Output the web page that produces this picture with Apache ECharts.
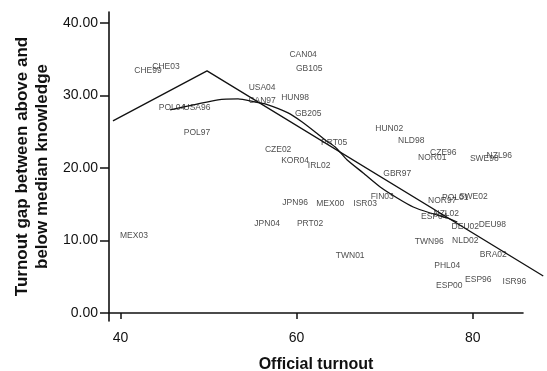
<!DOCTYPE html>
<html>
<head>
<meta charset="utf-8">
<script src="https://cdn.jsdelivr.net/npm/echarts@6/dist/echarts.min.js"></script>
<style>
html,body{margin:0;padding:0;background:#fff;}
#chart{width:547px;height:371px;}
</style>
</head>
<body>
<div id="chart"></div>
<script>
const caseLabels = ["CHE99","CHE03","POL04","USA96","POL97","USA04","CAN97","CAN04","GB105","HUN98",
  "GB205","PRT05","CZE02","KOR04","IRL02","HUN02","NLD98","GBR97","CZE96","NOR01",
  "SWE98","NZL96","NOR97","POL01","SWE02","ESP04","NZL02","DEU02","DEU98","TWN96",
  "NLD02","BRA02","PHL04","ESP00","ESP96","ISR96","JPN96","MEX00","ISR03","FIN03",
  "JPN04","PRT02","TWN01","MEX03"];
const turnout = [43.13,45.17,45.85,48.69,48.69,56.08,56.08,60.74,61.42,59.83,
  61.31,64.26,57.90,59.83,62.56,70.51,73.01,71.42,76.65,75.40,
  81.31,83.01,76.53,78.01,80.06,75.63,76.99,79.15,82.22,75.06,
  79.15,82.33,77.10,77.33,80.63,84.72,59.83,63.81,67.78,69.72,
  56.65,61.53,66.08,41.53];
const turnoutGap = [33.38,33.93,28.28,28.28,24.83,31.03,29.24,35.59,33.66,29.66,
  27.45,23.45,22.48,20.97,20.28,25.38,23.72,19.17,22.07,21.38,
  21.24,21.66,15.45,15.86,16.00,13.24,13.66,11.86,12.14,9.79,
  9.93,8.00,6.48,3.72,4.55,4.28,15.17,15.03,15.03,16.00,
  12.28,12.28,7.86,10.62];
const fitX = [39.15, 49.83, 88.0];
const fitY = [26.48, 33.38, 5.10];
const lowessX = [45.64,51.08,53.35,55.28,56.42,59.03,60.63,62.10,63.24,64.38,65.74,67.56,69.49,71.42,73.24,75.17,77.10,78.24];
const lowessY = [28.00,29.38,29.52,29.10,28.83,27.59,26.34,24.97,23.86,22.90,21.10,19.31,17.38,15.86,14.62,13.79,13.10,12.55];
const xTicks = [40, 60, 80];
const yTicks = [0, 10, 20, 30, 40];

const pts = caseLabels.map((n, i) => [turnout[i], turnoutGap[i], n]);
const fit = fitX.map((x, i) => [x, fitY[i]]);
const lowess = lowessX.map((x, i) => [x, lowessY[i]]);

const X_MIN = 38.7, X_MAX = 85.7, Y_MIN = -1.1, Y_MAX = 41.5;
const GRID_LEFT = 109, GRID_RIGHT = 24, GRID_W = 547 - 109 - 24;
// second (overlay) grid reaching the right edge, same scale, so the fit line can run past the axis end
const X_MAX2 = X_MIN + (X_MAX - X_MIN) * (547 - GRID_LEFT) / GRID_W;

const font = 'Liberation Sans';
const chart = echarts.init(document.getElementById('chart'), null, {renderer: 'canvas'});
chart.setOption({
  animation: false,
  backgroundColor: '#fff',
  grid: [
    {left: GRID_LEFT, right: GRID_RIGHT, top: 12, bottom: 50, outerBoundsMode: 'none', containLabel: false},
    {left: GRID_LEFT, right: 0, top: 12, bottom: 50, outerBoundsMode: 'none', containLabel: false}
  ],
  xAxis: [{
    type: 'value', min: X_MIN, max: X_MAX, gridIndex: 0,
    name: 'Official turnout', nameLocation: 'middle', nameGap: 36,
    nameTextStyle: {fontFamily: font, fontWeight: 'bold', fontSize: 16, color: '#111'},
    axisLine: {show: true, lineStyle: {color: '#111', width: 1.6}},
    axisTick: {show: true, length: 6, customValues: xTicks, lineStyle: {color: '#111', width: 1.5}},
    axisLabel: {customValues: xTicks, margin: 10, fontFamily: font, fontSize: 14, color: '#111'},
    splitLine: {show: false}
  }, {
    type: 'value', min: X_MIN, max: X_MAX2, gridIndex: 1, show: false
  }],
  yAxis: [{
    type: 'value', min: Y_MIN, max: Y_MAX, gridIndex: 0,
    name: 'Turnout gap between above and\nbelow median knowledge', nameLocation: 'middle', nameGap: 55,
    nameRotate: 90,
    nameTextStyle: {fontFamily: font, fontWeight: 'bold', fontSize: 17, lineHeight: 20, color: '#111'},
    axisLine: {show: true, lineStyle: {color: '#111', width: 1.6}},
    axisTick: {show: true, length: 9, customValues: yTicks, lineStyle: {color: '#111', width: 1.5}},
    axisLabel: {customValues: yTicks, margin: 11, fontFamily: font, fontSize: 14, color: '#111',
      formatter: v => Number(v).toFixed(2)},
    splitLine: {show: false}
  }, {
    type: 'value', min: Y_MIN, max: Y_MAX, gridIndex: 1, show: false
  }],
  series: [
    {
      type: 'line', data: fit, symbol: 'none', clip: false, z: 3,
      xAxisIndex: 1, yAxisIndex: 1,
      lineStyle: {color: '#111', width: 1.3}
    },
    {
      type: 'line', data: lowess, symbol: 'none', smooth: 0.2, z: 3,
      lineStyle: {color: '#111', width: 1.3}
    },
    {
      type: 'scatter', data: pts, symbolSize: 0.1, z: 4,
      label: {show: true, position: 'inside', formatter: p => p.data[2],
        fontFamily: font, fontSize: 8.5, color: '#1a1a1a'}
    }
  ]
});
</script>
</body>
</html>
